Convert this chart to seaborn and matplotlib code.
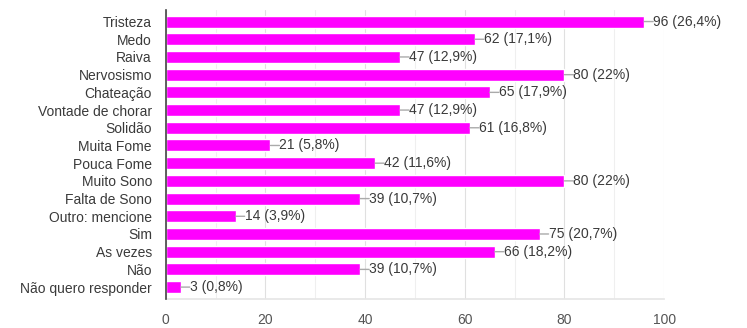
import matplotlib
matplotlib.use("Agg")
import matplotlib.pyplot as plt
import seaborn as sns
import pandas as pd
from matplotlib.ticker import MultipleLocator

categories = ["Tristeza", "Medo", "Raiva", "Nervosismo", "Chateação", "Vontade de chorar",
              "Solidão", "Muita Fome", "Pouca Fome", "Muito Sono", "Falta de Sono",
              "Outro: mencione", "Sim", "As vezes", "Não", "Não quero responder"]
counts = [96, 62, 47, 80, 65, 47, 61, 21, 42, 80, 39, 14, 75, 66, 39, 3]
pct_labels = ["26,4%", "17,1%", "12,9%", "22%", "17,9%", "12,9%", "16,8%", "5,8%",
              "11,6%", "22%", "10,7%", "3,9%", "20,7%", "18,2%", "10,7%", "0,8%"]

df = pd.DataFrame({"cat": categories, "n": counts})

sns.set_theme(style="white")
plt.rcParams["font.family"] = ["Liberation Sans", "DejaVu Sans"]

fig = plt.figure(figsize=(7.47, 3.28), dpi=100)
ax = fig.add_axes([0.222, 0.088, 0.667, 0.883])

sns.barplot(data=df, x="n", y="cat", color="#FF00FF", saturation=1, width=0.68,
            ax=ax, orient="h")

ax.set_xlim(0, 100)
ax.set_ylim(15.68, -0.68)
ax.xaxis.set_major_locator(MultipleLocator(20))
ax.xaxis.set_minor_locator(MultipleLocator(10))
ax.grid(True, axis="x", which="major", color="#e0e0e0", linewidth=0.8)
ax.grid(True, axis="x", which="minor", color="#efefef", linewidth=0.8)
ax.set_axisbelow(True)
ax.set_xlabel("")
ax.set_ylabel("")

for s in ["top", "right"]:
    ax.spines[s].set_visible(False)
ax.spines["bottom"].set_color("#e6e6e6")
ax.spines["left"].set_color("#444444")
ax.spines["left"].set_linewidth(1.2)
ax.spines["left"].set_zorder(5)

ax.tick_params(axis="x", length=0, labelsize=10, labelcolor="#555555", pad=10)
ax.tick_params(axis="y", length=0, labelsize=10, labelcolor="#3a3a3a", pad=10)

for i, (v, p) in enumerate(zip(counts, pct_labels)):
    ax.annotate("", xy=(v, i), xytext=(6.5, 0), textcoords="offset points",
                arrowprops=dict(arrowstyle="-", color="#aaaaaa", lw=1,
                                shrinkA=0, shrinkB=0))
    ax.annotate(f"{v} ({p})", xy=(v, i), xytext=(6.5, 0), textcoords="offset points",
                va="center", ha="left", fontsize=10, color="#3a3a3a",
                annotation_clip=False)

fig.savefig("out.png", dpi=100)
